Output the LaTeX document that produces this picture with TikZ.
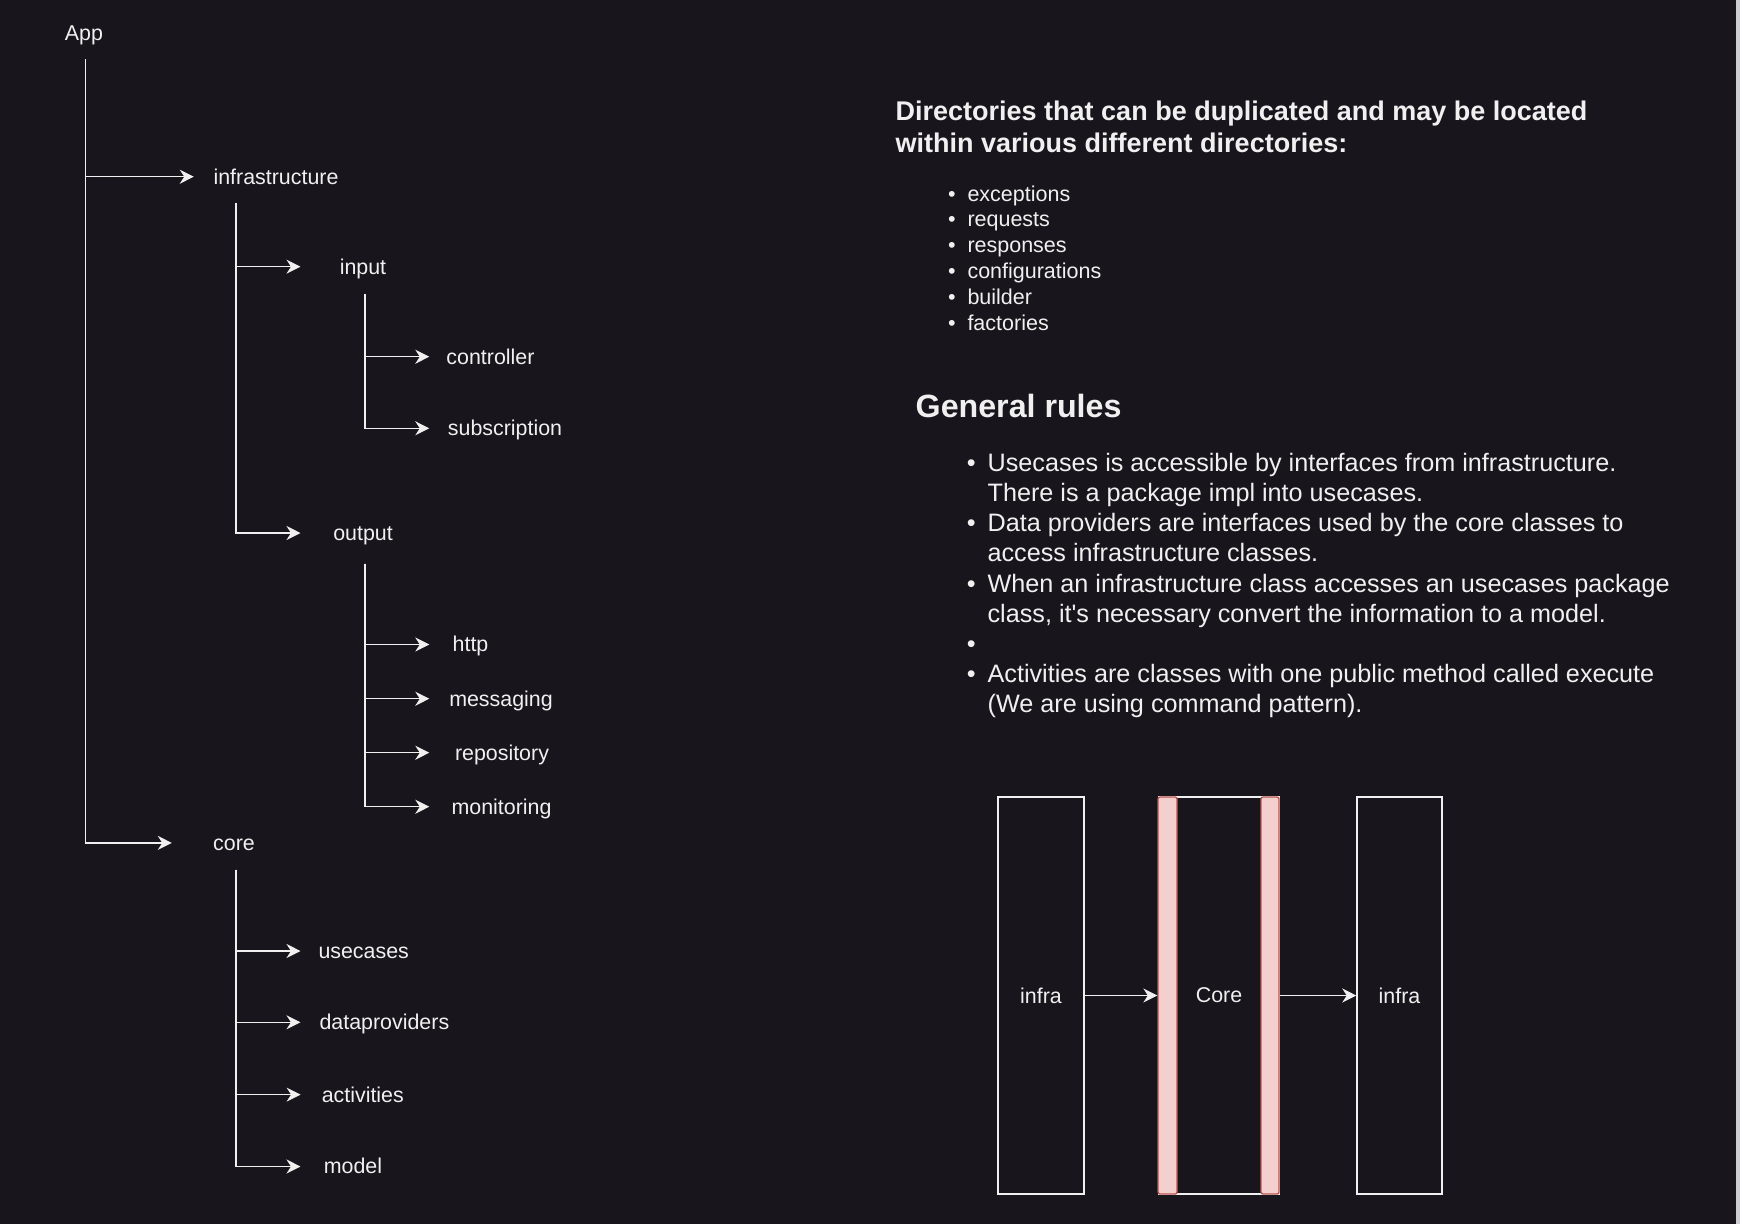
\documentclass[tikz,border=0pt]{standalone}
\usepackage{fontspec}
\setmainfont{Liberation Sans}[Ligatures=TeXOff]
\usetikzlibrary{arrows.meta, positioning}
\definecolor{colBg}{RGB}{24,22,28}
\definecolor{colLine}{RGB}{240,240,240}
\definecolor{colGateFill}{RGB}{243,208,206}
\definecolor{colGateDraw}{RGB}{184,84,80}
\definecolor{colEdge}{RGB}{205,205,210}

\tikzset{
    dirnode/.style={text=colLine, font=\fontsize{21.4}{25.7}\selectfont,
        inner sep=0pt, text height=19.2pt, text depth=4.3pt},
    branch/.style={draw=colLine, line width=1.5pt,
        -{Stealth[length=14pt, width=14pt, inset=4.5pt]}},
    layerbox/.style={draw=colLine, line width=1.5pt, minimum height=397,
        inner sep=0pt, text=colLine, font=\fontsize{21.4}{25.7}\selectfont},
    gate/.style={fill=colGateFill, draw=colGateDraw, line width=1.3pt,
        rounded corners=2pt, minimum height=397, inner sep=0pt},
    notetext/.style={anchor=base west, inner sep=0pt, text=colLine}
}

\begin{document}
\begin{tikzpicture}[x=1pt, y=-1pt]
    % --- Background ---
    \fill[colBg] (0,0) rectangle (1740,1224);
    \fill[colEdge] (1736,0) rectangle (1740,1224);
    \useasboundingbox (0,0) rectangle (1740,1224);

    % --- Tree: App ---
    \node[dirnode] (app) at (84,33) {App};
    \coordinate (tApp) at (85.5,59);
    \node[dirnode, minimum width=164] (infra) at (276,176.7) {infrastructure};
    \node[dirnode, minimum width=124] (core) at (234,842.9) {core};
    \draw[branch] (tApp) |- (infra.west);
    \draw[branch] (tApp) |- (core.west);

    % --- Tree: infrastructure ---
    \coordinate (tInfra) at (236,203);
    \node[dirnode, minimum width=124.6] (input) at (363,266.7) {input};
    \node[dirnode, minimum width=124.6] (output) at (363,533) {output};
    \draw[branch] (tInfra) |- (input.west);
    \draw[branch] (tInfra) |- (output.west);

    % --- Tree: input ---
    \coordinate (tInput) at (365,294);
    \node[dirnode, minimum width=122] (controller) at (490.5,356.7) {controller};
    \node[dirnode, minimum width=151] (subscription) at (505,428.3) {subscription};
    \draw[branch] (tInput) |- (controller.west);
    \draw[branch] (tInput) |- (subscription.west);

    % --- Tree: output ---
    \coordinate (tOutput) at (365,563.5);
    \node[dirnode, minimum width=82] (http) at (470.5,644.5) {http};
    \node[dirnode, minimum width=143] (messaging) at (501,698.7) {messaging};
    \node[dirnode, minimum width=145] (repository) at (502,752.7) {repository};
    \node[dirnode, minimum width=144] (monitoring) at (501.5,806.7) {monitoring};
    \draw[branch] (tOutput) |- (http.west);
    \draw[branch] (tOutput) |- (messaging.west);
    \draw[branch] (tOutput) |- (repository.west);
    \draw[branch] (tOutput) |- (monitoring.west);

    % --- Tree: core ---
    \coordinate (tCore) at (236,869.5);
    \node[dirnode, minimum width=126] (usecases) at (363.7,951) {usecases};
    \node[dirnode, minimum width=167.4] (dataproviders) at (384.4,1022.3) {dataproviders};
    \node[dirnode, minimum width=124] (activities) at (362.8,1094.6) {activities};
    \node[dirnode, minimum width=104.6] (model) at (353,1166.5) {model};
    \draw[branch] (tCore) |- (usecases.west);
    \draw[branch] (tCore) |- (dataproviders.west);
    \draw[branch] (tCore) |- (activities.west);
    \draw[branch] (tCore) |- (model.west);

    % --- Duplicated directories ---
    \node[notetext, font=\bfseries\fontsize{27}{32}\selectfont] (dupTitle) at (895.5,120)
        {\begin{tabular}[t]{@{}l@{}}Directories that can be duplicated and may be located\\
        within various different directories:\end{tabular}};
    \node[notetext, font=\fontsize{21.5}{25.8}\selectfont] (dupList) at (948,201)
        {\begin{tabular}[t]{@{}l@{\hspace{11.8pt}}l@{}}
        \textbullet & exceptions\\
        \textbullet & requests\\
        \textbullet & responses\\
        \textbullet & configurations\\
        \textbullet & builder\\
        \textbullet & factories
        \end{tabular}};

    % --- General rules ---
    \node[notetext, font=\bfseries\fontsize{32.2}{38}\selectfont] (rulesTitle) at (915.5,417.5) {General rules};
    \node[notetext, font=\fontsize{25.2}{30.2}\selectfont] (rulesList) at (966.6,471.2)
        {\begin{tabular}[t]{@{}l@{\hspace{12pt}}l@{}}
        \textbullet & Usecases is accessible by interfaces from infrastructure.\\
                    & There is a package impl into usecases.\\
        \textbullet & Data providers are interfaces used by the core classes to\\
                    & access infrastructure classes.\\
        \textbullet & When an infrastructure class accesses an usecases package\\
                    & class, it's necessary convert the information to a model.\\
        \textbullet & \\
        \textbullet & Activities are classes with one public method called execute\\
                    & (We are using command pattern).
        \end{tabular}};

    % --- Layers: infra -> Core -> infra ---
    \node[layerbox, minimum width=86] (infraL) at (1041,995.5) {infra};
    \node[layerbox, minimum width=120] (coreBox) at (1219,995.5) {Core};
    \node[gate, minimum width=19] (gateL) at (1167.5,995.5) {};
    \node[gate, minimum width=18] (gateR) at (1270,995.5) {};
    \node[layerbox, minimum width=85] (infraR) at (1399.5,995.5) {infra};
    \draw[branch] (infraL.east) -- (gateL.west);
    \draw[branch] (gateR.east) -- (infraR.west);
\end{tikzpicture}
\end{document}
